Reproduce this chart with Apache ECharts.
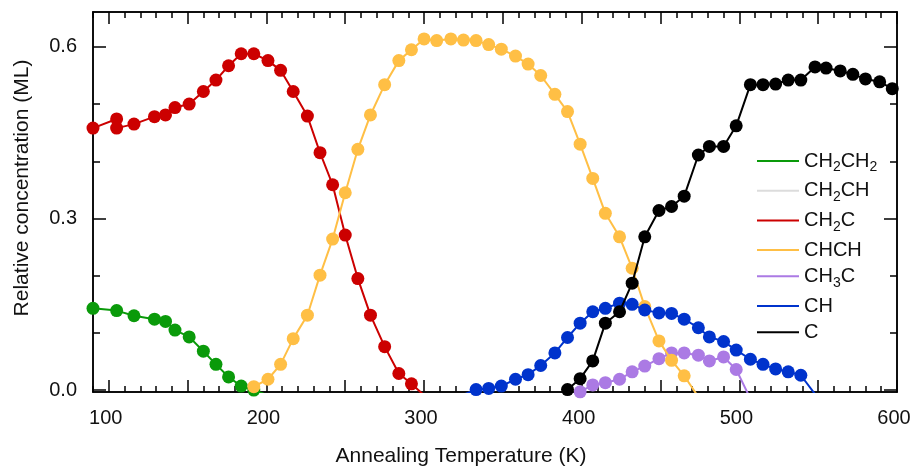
<!DOCTYPE html>
<html>
<head>
<meta charset="utf-8">
<script src="https://cdn.jsdelivr.net/npm/echarts@6/dist/echarts.min.js"></script>
<style>
html,body{margin:0;padding:0;background:#fff;}
#chart{width:913px;height:466px;}
</style>
</head>
<body>
<div id="chart"></div>
<script>
// ---- Data ----
var seriesNames = ['CH2CH2', 'CH2CH', 'CH2C', 'CHCH', 'CH3C', 'CH', 'C'];
var seriesColors = ['#0a9a0a', '#dcdcdc', '#cc0000', '#ffbf45', '#ab7ae4', '#0033cc', '#000000'];

var ch2ch2T = [90, 105, 116, 129, 136, 142, 151, 160, 168, 176, 184, 192, 201];
var ch2ch2V = [0.143, 0.139, 0.130, 0.124, 0.120, 0.105, 0.093, 0.068, 0.045, 0.023, 0.007, 0.000, -0.009];

var ch2chT = [];
var ch2chV = [];

var ch2cT = [90, 105, 105, 116, 129, 136, 142, 151, 160, 168, 176, 184, 192, 201, 209, 217, 226, 234, 242, 250, 258, 266, 275, 284, 292, 300];
var ch2cV = [0.458, 0.474, 0.458, 0.465, 0.478, 0.481, 0.494, 0.500, 0.522, 0.542, 0.567, 0.588, 0.588, 0.576, 0.559, 0.522, 0.479, 0.415, 0.359, 0.271, 0.195, 0.131, 0.076, 0.029, 0.011, -0.009];

var chchT = [192, 201, 209, 217, 226, 234, 242, 250, 258, 266, 275, 284, 292, 300, 308, 317, 325, 333, 341, 349, 358, 366, 374, 383, 391, 399, 407, 415, 424, 432, 440, 449, 457, 465, 474];
var chchV = [0.006, 0.019, 0.045, 0.090, 0.131, 0.201, 0.264, 0.345, 0.421, 0.481, 0.534, 0.576, 0.595, 0.614, 0.611, 0.614, 0.612, 0.611, 0.604, 0.596, 0.584, 0.570, 0.550, 0.517, 0.487, 0.430, 0.370, 0.309, 0.268, 0.213, 0.146, 0.086, 0.052, 0.025, -0.012];

var ch3cT = [399, 407, 415, 424, 432, 440, 449, 457, 465, 474, 481, 490, 498, 507];
var ch3cV = [-0.003, 0.009, 0.013, 0.019, 0.032, 0.042, 0.055, 0.065, 0.065, 0.061, 0.051, 0.058, 0.036, -0.015];

var chT = [325, 333, 341, 349, 358, 366, 374, 383, 391, 399, 407, 415, 424, 432, 440, 449, 457, 465, 474, 481, 490, 498, 507, 515, 523, 531, 539, 548];
var chV = [-0.008, 0.001, 0.003, 0.007, 0.019, 0.027, 0.043, 0.065, 0.092, 0.117, 0.137, 0.143, 0.152, 0.150, 0.140, 0.135, 0.134, 0.124, 0.109, 0.093, 0.085, 0.070, 0.054, 0.045, 0.037, 0.032, 0.026, -0.007];

var cT = [391, 399, 407, 415, 424, 432, 440, 449, 457, 465, 474, 481, 490, 498, 507, 515, 523, 531, 539, 548, 555, 564, 572, 580, 589, 597];
var cV = [0.001, 0.020, 0.051, 0.117, 0.137, 0.187, 0.268, 0.314, 0.321, 0.339, 0.411, 0.426, 0.426, 0.462, 0.534, 0.534, 0.535, 0.542, 0.542, 0.565, 0.563, 0.558, 0.552, 0.544, 0.539, 0.527];

var xTickLabels = [100, 200, 300, 400, 500, 600];
var xMajorTicks = [100, 150, 200, 250, 300, 350, 400, 450, 500, 550, 600];
var yTickLabels = [0, 0.3, 0.6];
var yMinorTicks = [0.1, 0.2, 0.4, 0.5];

var X_MIN = 90, X_MAX = 600, X_MINOR_STEP = 10, Y_MIN = -0.0033, Y_MAX = 0.661;

// ---- Build ----
function pairs(xs, ys) { return xs.map(function (x, i) { return [x, ys[i]]; }); }
var allT = [ch2ch2T, ch2chT, ch2cT, chchT, ch3cT, chT, cT];
var allV = [ch2ch2V, ch2chV, ch2cV, chchV, ch3cV, chV, cV];
var zOrder = [2, 2, 2, 4, 3, 5, 6];

var FONT = '"Liberation Sans", Arial, sans-serif';
var lineCol = '#000';
function gridRect() {
  return { left: 93, right: 16, top: 12, bottom: 74, containLabel: false, outerBoundsMode: 'none' };
}

function tickStyle() { return { color: lineCol, width: 1.5 }; }

function xAxisDef(gridIndex, pos, opts) {
  var a = {
    type: 'value', gridIndex: gridIndex, position: pos, min: X_MIN, max: X_MAX,
    axisLine: { show: true, onZero: false, lineStyle: { color: lineCol, width: 1.5 } },
    axisTick: { show: true, inside: true, length: opts.len, lineStyle: tickStyle() },
    axisLabel: { show: false },
    splitLine: { show: false }
  };
  if (opts.custom) a.axisTick.customValues = opts.custom;
  if (opts.interval) a.interval = opts.interval;
  if (opts.labels) {
    a.axisLabel = {
      show: true, customValues: opts.labels, fontSize: 20, color: '#111', fontFamily: FONT, margin: 16,
      padding: [0, 6, 0, 0],
      formatter: function (v) { return String(v); }
    };
  }
  return a;
}
function yAxisDef(gridIndex, pos, opts) {
  var a = {
    type: 'value', gridIndex: gridIndex, position: pos, min: Y_MIN, max: Y_MAX,
    axisLine: { show: true, onZero: false, lineStyle: { color: lineCol, width: 1.5 } },
    axisTick: { show: true, inside: true, length: opts.len, customValues: opts.custom, lineStyle: tickStyle() },
    axisLabel: { show: false },
    splitLine: { show: false }
  };
  if (opts.labels) {
    a.axisLabel = {
      show: true, customValues: opts.labels, fontSize: 20, color: '#111', fontFamily: FONT, margin: 16,
      formatter: function (v) { return v.toFixed(1); }
    };
  }
  return a;
}

var xAxes = [
  xAxisDef(0, 'bottom', { custom: xMajorTicks, len: 12, labels: xTickLabels }),
  xAxisDef(0, 'top', { custom: xMajorTicks, len: 12 }),
  xAxisDef(1, 'bottom', { interval: X_MINOR_STEP, len: 6 }),
  xAxisDef(1, 'top', { interval: X_MINOR_STEP, len: 6 })
];
xAxes[0].name = 'Annealing Temperature (K)';
xAxes[0].nameLocation = 'middle';
xAxes[0].nameGap = 54;
xAxes[0].nameTextStyle = { fontSize: 21, color: '#111', fontFamily: FONT, padding: [0, 68, 0, 0] };

var yAxes = [
  yAxisDef(0, 'left', { custom: yTickLabels, len: 13, labels: yTickLabels }),
  yAxisDef(0, 'right', { custom: yTickLabels, len: 13 }),
  yAxisDef(1, 'left', { custom: yMinorTicks, len: 7 }),
  yAxisDef(1, 'right', { custom: yMinorTicks, len: 7 })
];
yAxes[0].name = 'Relative concentration (ML)';
yAxes[0].nameLocation = 'middle';
yAxes[0].nameGap = 60;
yAxes[0].nameTextStyle = { fontSize: 21, color: '#111', fontFamily: FONT, padding: [0, 0, 0, 28] };

var series = seriesNames.map(function (name, i) {
  return {
    name: name, type: 'line', xAxisIndex: 0, yAxisIndex: 0,
    data: pairs(allT[i], allV[i]),
    symbol: 'circle', symbolSize: 13, showSymbol: true,
    z: zOrder[i],
    lineStyle: { color: seriesColors[i], width: 2 },
    itemStyle: { color: seriesColors[i] },
    emphasis: { disabled: true },
    animation: false, clip: true
  };
});

function legendFmt(name) {
  var parts = name.match(/[A-Za-z]+|\d+/g);
  return parts.map(function (p) { return /\d/.test(p) ? '{s|' + p + '}' : '{n|' + p + '}'; }).join('');
}

var option = {
  animation: false,
  backgroundColor: '#fff',
  grid: [gridRect(), gridRect()],
  xAxis: xAxes,
  yAxis: yAxes,
  legend: {
    orient: 'vertical', left: 752, top: 146,
    icon: 'rect', itemWidth: 42, itemHeight: 2, itemGap: 6.2,
    data: seriesNames.map(function (n, i) { return { name: n, itemStyle: { color: seriesColors[i] } }; }),
    formatter: legendFmt,
    textStyle: {
      color: '#111', fontFamily: FONT,
      rich: {
        n: { fontSize: 20, fontFamily: FONT, color: '#111', lineHeight: 27 },
        s: { fontSize: 14, fontFamily: FONT, color: '#111', lineHeight: 27, verticalAlign: 'bottom', padding: [7, 0, 0, 0] }
      }
    },
    selectedMode: false
  },
  series: series
};

var chart = echarts.init(document.getElementById('chart'), null, { renderer: 'canvas' });
chart.setOption(option);
</script>
</body>
</html>
